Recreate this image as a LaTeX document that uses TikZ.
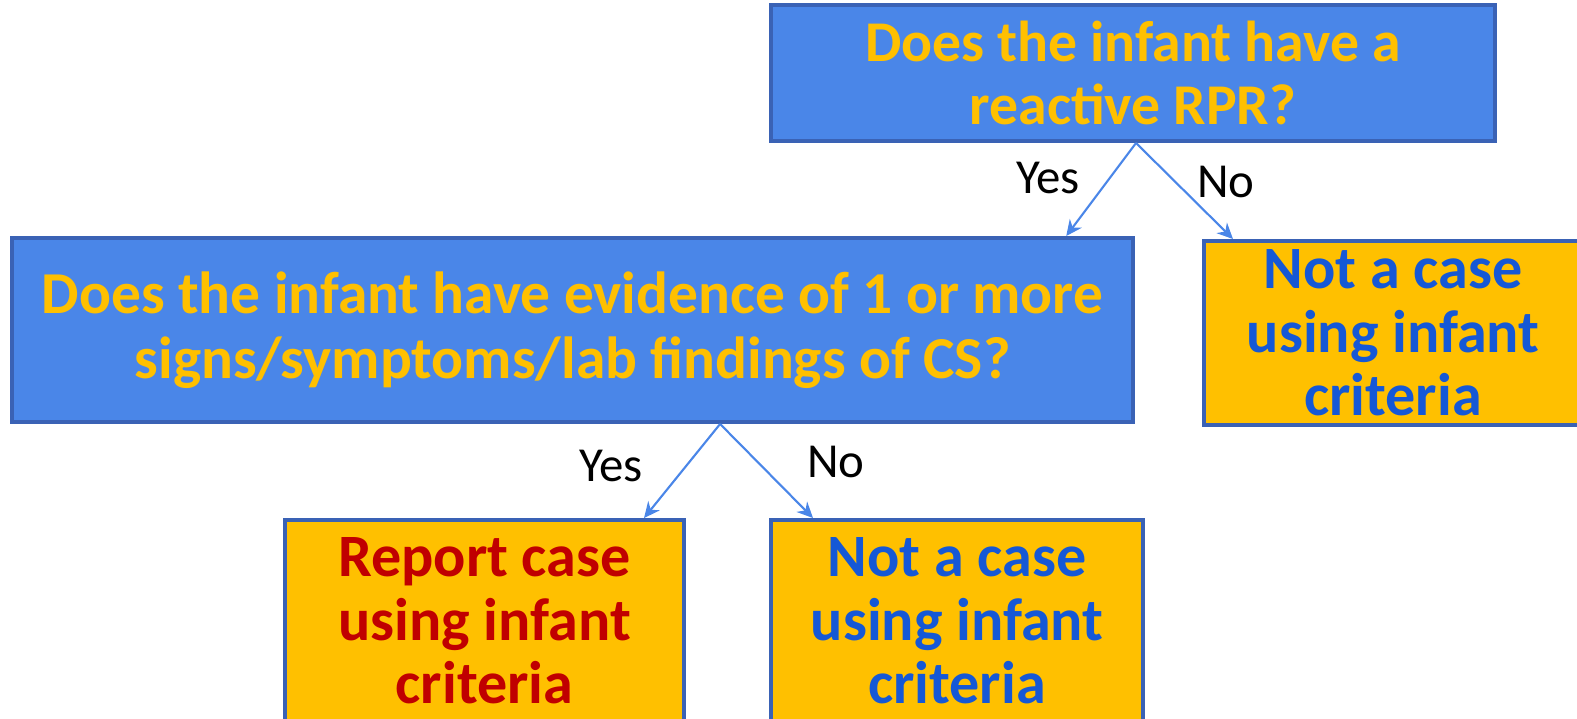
\documentclass[tikz,border=0pt]{standalone}
\usepackage{fontspec}
\setmainfont{Carlito}
\usetikzlibrary{arrows.meta}
\definecolor{qblue}{HTML}{4A86E8}
\definecolor{rimblue}{HTML}{3A62B5}
\definecolor{gold}{HTML}{FFC000}
\definecolor{nblue}{HTML}{1558D6}
\definecolor{rred}{HTML}{C00000}

\begin{document}
\begin{tikzpicture}[x=0.01cm, y=-0.01cm,
  qbox/.style={draw=rimblue, line width=1.1pt, fill=qblue, text=gold,
               align=center, inner sep=0pt,
               font=\bfseries\fontsize{16.9pt}{18.5pt}\selectfont},
  abox/.style={draw=rimblue, line width=1.1pt, fill=gold,
               align=center, inner sep=0pt,
               font=\bfseries\fontsize{17.1pt}{18.1pt}\selectfont},
  lbl/.style={font=\fontsize{13.9pt}{16pt}\selectfont},
  arr/.style={->, draw=qblue, line width=0.6pt},
  >={Stealth[length=4.5pt, width=4.2pt]}]
\useasboundingbox (0,0) rectangle (1577,718);
\node[qbox, minimum width=7.24cm, minimum height=1.36cm,
      font=\bfseries\fontsize{16.4pt}{17.9pt}\selectfont] (rpr) at (1133,73)
  {Does the infant have a\\reactive RPR?};
\node[qbox, minimum width=11.21cm, minimum height=1.84cm] (sgn) at (572.5,330)
  {Does the infant have evidence of 1 or more\\signs/symptoms/lab findings of CS?};
\node[abox, text=nblue, minimum width=3.78cm, minimum height=1.84cm] (nc1) at (1393,333)
  {Not a case\\using infant\\criteria};
\node[abox, text=rred, minimum width=3.99cm, minimum height=2.02cm] (rep) at (484.5,621)
  {Report case\\using infant\\criteria};
\node[abox, text=nblue, minimum width=3.72cm, minimum height=2.02cm] (nc2) at (957,621)
  {Not a case\\using infant\\criteria};
% decisions
\draw[arr] ([xshift=0.03cm]rpr.south) -- ([xshift=-0.69cm]sgn.north east);
\draw[arr] ([xshift=0.03cm]rpr.south) -- ([xshift=0.31cm]nc1.north west);
\draw[arr] ([xshift=1.475cm]sgn.south) -- ([xshift=-0.42cm]rep.north east);
\draw[arr] ([xshift=1.475cm]sgn.south) -- ([xshift=0.44cm]nc2.north west);
\node[lbl] (y1) at (1048,178) {Yes};
\node[lbl] (n1) at (1226,182) {No};
\node[lbl] (y2) at (611,466) {Yes};
\node[lbl] (n2) at (836,462) {No};
\end{tikzpicture}
\end{document}
